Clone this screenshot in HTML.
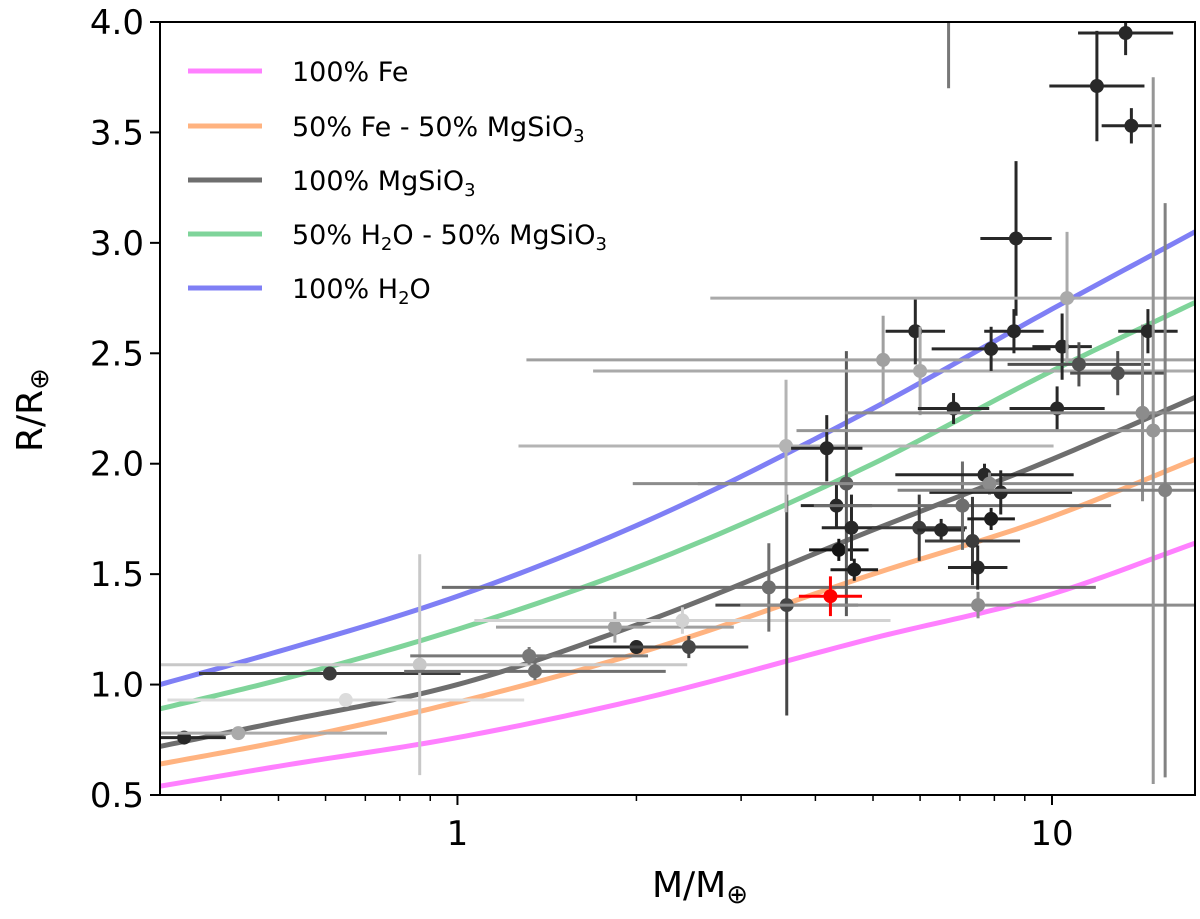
<!DOCTYPE html>
<html><head><meta charset="utf-8">
<style>
html,body{margin:0;padding:0;background:#fff;}
svg{display:block;font-family:"DejaVu Sans","Liberation Sans",sans-serif;}
</style></head>
<body>
<svg id="chart" width="1200" height="919" viewBox="0 0 1200 919">
<g id="curves"></g>
<g id="points"></g>
<g id="axes"></g>
<g id="legend"></g>
</svg>
<script>
// ---- data ----
const curveMass = [0.316, 0.5, 1, 2, 5, 10, 17.4];
const feRadius = [0.54, 0.63, 0.76, 0.93, 1.21, 1.41, 1.64];
const fe50Radius = [0.64, 0.74, 0.92, 1.14, 1.50, 1.76, 2.02];
const rockRadius = [0.72, 0.83, 1.0, 1.27, 1.70, 2.02, 2.30];
const w50Radius = [0.89, 1.02, 1.25, 1.53, 2.0, 2.42, 2.73];
const waterRadius = [1.0, 1.15, 1.40, 1.72, 2.25, 2.70, 3.05];

const pMass = [0.347,0.428,0.61,0.649,0.864,1.32,1.35,1.84,2.0,2.39,2.45,3.34,3.58,3.57,4.18,4.34,4.38,4.51,4.6,4.65,5.2,5.89,5.98,6.0,6.51,6.83,7.07,7.35,7.5,7.51,7.7,7.85,7.9,7.9,8.2,8.63,8.7,10.2,10.4,10.6,11.1,11.9,12.9,13.3,13.6,14.2,14.5,14.8,15.5,6.7];
const pRadius = [0.76,0.78,1.05,0.93,1.09,1.13,1.06,1.26,1.17,1.29,1.17,1.44,1.36,2.08,2.07,1.81,1.61,1.91,1.71,1.52,2.47,2.60,1.71,2.42,1.70,2.25,1.81,1.65,1.53,1.36,1.95,1.91,2.52,1.75,1.87,2.60,3.02,2.25,2.53,2.75,2.45,3.71,2.41,3.95,3.53,2.23,2.60,2.15,1.88,4.3];
const pMassErr = [0.07,0.25,0.22,0.3,0.45,0.2,0.22,0.2,0.08,0.35,0.1,0.55,0.12,0.45,0.06,0.06,0.05,0.25,0.05,0.04,0.6,0.05,0.08,0.55,0.04,0.06,0.25,0.08,0.05,0.4,0.15,0.6,0.1,0.04,0.12,0.05,0.06,0.08,0.05,0.6,0.12,0.08,0.08,0.08,0.05,0.5,0.05,0.6,0.45,0.0];
const pRadiusErr = [0.02,0.02,0.03,0.02,0.5,0.04,0.04,0.07,0.03,0.06,0.05,0.2,0.5,0.3,0.15,0.1,0.05,0.6,0.15,0.05,0.2,0.15,0.15,0.2,0.05,0.07,0.2,0.2,0.1,0.06,0.05,0.05,0.1,0.05,0.1,0.1,0.35,0.1,0.15,0.3,0.1,0.25,0.1,0.1,0.08,0.4,0.1,1.6,1.3,0.6];
const pGray = [40,170,60,220,200,120,110,160,40,210,70,110,70,180,40,40,20,90,40,30,160,40,60,170,40,40,110,60,40,140,40,140,40,30,40,40,40,40,40,170,80,40,80,40,40,140,40,150,130,120];
const redMass = [4.24], redRadius = [1.40];
const yTicks = [0.5,1.0,1.5,2.0,2.5,3.0,3.5,4.0];
const xTicks = [1,10];
const xTickLabels = ["1","10"];

// ---- axes functions ----
const L=160,R=1195,T=22,B=795;
const xMin=0.316,xMax=17.4,yMin=0.5,yMax=4.0;
function xs(m){return L+(Math.log10(m)-Math.log10(xMin))/(Math.log10(xMax)-Math.log10(xMin))*(R-L);}
function ys(r){return B-(r-yMin)/(yMax-yMin)*(B-T);}
const NS="http://www.w3.org/2000/svg";
function mk(tag,attrs,parent){const e=document.createElementNS(NS,tag);for(const k in attrs)e.setAttribute(k,attrs[k]);parent.appendChild(e);return e;}

const defs=mk("defs",{},document.getElementById("chart"));
const cp=mk("clipPath",{id:"clip"},defs);mk("rect",{x:L,y:T,width:R-L,height:B-T},cp);
const cg=document.getElementById("curves");cg.setAttribute("clip-path","url(#clip)");
const pg=document.getElementById("points");pg.setAttribute("clip-path","url(#clip)");

// smooth Hermite interpolation in (log M, R)
function curvePath(ms,rs){
  const lx=ms.map(m=>Math.log10(m)),n=lx.length;
  const tan=lx.map((_,i)=>{
    if(i===0)return (rs[1]-rs[0])/(lx[1]-lx[0]);
    if(i===n-1)return (rs[n-1]-rs[n-2])/(lx[n-1]-lx[n-2]);
    const s0=(rs[i]-rs[i-1])/(lx[i]-lx[i-1]),s1=(rs[i+1]-rs[i])/(lx[i+1]-lx[i]);
    const w0=lx[i+1]-lx[i],w1=lx[i]-lx[i-1];
    return (s0*w0+s1*w1)/(w0+w1);
  });
  let d="";
  for(let i=0;i<n-1;i++){
    const h=lx[i+1]-lx[i];
    for(let k=(i===0?0:1);k<=20;k++){
      const t=k/20,t2=t*t,t3=t2*t;
      const r=(2*t3-3*t2+1)*rs[i]+(t3-2*t2+t)*h*tan[i]+(-2*t3+3*t2)*rs[i+1]+(t3-t2)*h*tan[i+1];
      const m=Math.pow(10,lx[i]+t*h);
      d+=(d?"L":"M")+xs(m).toFixed(2)+","+ys(r).toFixed(2);
    }
  }
  return d;
}
const curveData=[feRadius,fe50Radius,rockRadius,w50Radius,waterRadius];
const curveColors=["#ff80ff","#ffb380","#6e6e6e","#7fd49a","#7f7ff5"];
const curveIds=["curve-fe","curve-fe-rock","curve-rock","curve-water-rock","curve-water"];
curveData.forEach((rs,i)=>{
  const p=mk("path",{d:curvePath(curveMass,rs),fill:"none",stroke:curveColors[i],"stroke-width":5},cg);
  
  
});

// points
pMass.forEach((m,i)=>{
  const g=pGray[i];const col="rgb("+g+","+g+","+g+")";
  const grp=mk("g",{},pg);
  
  
  const x=xs(m),y=ys(pRadius[i]);
  const f=Math.pow(10,pMassErr[i]);
  mk("line",{x1:xs(m/f),x2:xs(m*f),y1:y,y2:y,stroke:col,"stroke-width":3},grp);
  mk("line",{x1:x,x2:x,y1:ys(pRadius[i]-pRadiusErr[i]),y2:ys(pRadius[i]+pRadiusErr[i]),stroke:col,"stroke-width":3},grp);
  mk("circle",{cx:x,cy:y,r:7,fill:col},grp);
});
redMass.forEach((m,i)=>{
  const grp=mk("g",{},pg);
  
  
  const x=xs(m),y=ys(redRadius[i]);
  mk("line",{x1:xs(m/1.13),x2:xs(m*1.13),y1:y,y2:y,stroke:"#ff0000","stroke-width":3},grp);
  mk("line",{x1:x,x2:x,y1:ys(redRadius[i]-0.09),y2:ys(redRadius[i]+0.09),stroke:"#ff0000","stroke-width":3},grp);
  mk("circle",{cx:x,cy:y,r:7,fill:"#ff0000"},grp);
});

// axes
const ag=document.getElementById("axes");
const frame=mk("rect",{x:L,y:T,width:R-L,height:B-T,fill:"none",stroke:"#000","stroke-width":2},ag);


yTicks.forEach(v=>{
  const y=ys(v);
  mk("line",{x1:L-10,x2:L,y1:y,y2:y,stroke:"#000","stroke-width":2},ag);
  const t=mk("text",{x:L-16,y:y+12,"text-anchor":"end","font-size":34},ag);
  t.textContent=v.toFixed(1);
  
  
});
xTicks.forEach((v,i)=>{
  const x=xs(v);
  mk("line",{x1:x,x2:x,y1:B,y2:B+10,stroke:"#000","stroke-width":2},ag);
  const t=mk("text",{x:x,y:B+50,"text-anchor":"middle","font-size":34},ag);
  t.textContent=xTickLabels[i];
  
  
});
[0.4,0.5,0.6,0.7,0.8,0.9,2,3,4,5,6,7,8,9].forEach(v=>{
  const x=xs(v);mk("line",{x1:x,x2:x,y1:B,y2:B+6,stroke:"#000","stroke-width":1.5},ag);
});
const xt=mk("text",{x:700,y:897,"text-anchor":"middle","font-size":36},ag);
xt.innerHTML='M/M<tspan font-size="26" dy="6">⊕</tspan>';


const yt=mk("text",{x:0,y:0,"text-anchor":"middle","font-size":36,transform:"translate(42,410) rotate(-90)"},ag);
yt.innerHTML='R/R<tspan font-size="26" dy="6">⊕</tspan>';



// legend
const lg=document.getElementById("legend");
const legY=[71,126,180,234,288];
const legHtml=['100% Fe','50% Fe - 50% MgSiO<tspan font-size="18" dy="6">3</tspan>','100% MgSiO<tspan font-size="18" dy="6">3</tspan>','50% H<tspan font-size="18" dy="6">2</tspan><tspan dy="-6">O - 50% MgSiO</tspan><tspan font-size="18" dy="6">3</tspan>','100% H<tspan font-size="18" dy="6">2</tspan><tspan dy="-6">O</tspan>'];
legY.forEach((y,i)=>{
  const g=mk("g",{},lg);
  
  
  mk("line",{x1:188,x2:262,y1:y,y2:y,stroke:curveColors[i],"stroke-width":5},g);
  const t=mk("text",{x:292,y:y+10,"font-size":27},g);
  t.innerHTML=legHtml[i];
});
</script>
</body></html>
